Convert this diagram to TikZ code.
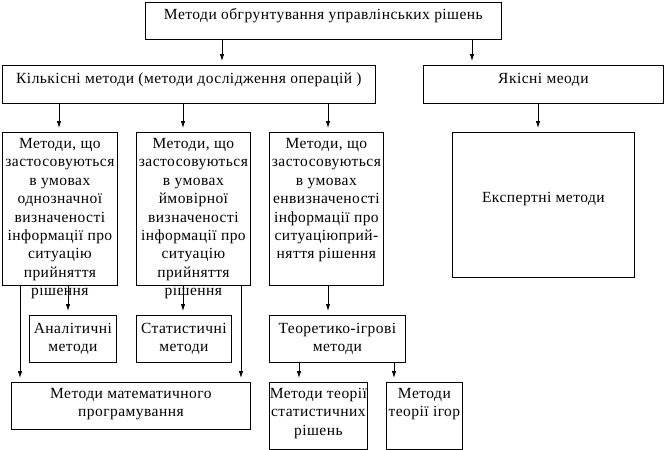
\documentclass[tikz,border=0pt]{standalone}
\usepackage{fontspec}
\setmainfont{Liberation Serif}[LetterSpace=3]
\usetikzlibrary{arrows.meta}
\newcommand{\bxt}[4]{\parbox[c][#2][t]{#1}{\centering\rule{0pt}{#3}#4\par}}
\begin{document}
\begin{tikzpicture}[x=1pt,y=-1pt,
  box/.style={draw, line width=0.8pt, inner sep=0pt, anchor=north west,
    font=\fontsize{15.5pt}{18.4pt}\selectfont},
  arr/.style={draw, line width=0.8pt, -{Latex[length=7pt,width=4.5pt]}, shorten >=4pt}]
\useasboundingbox (0,0) rectangle (665,450);
% level 0
\node[box] (top) at (145,2) {\bxt{356pt}{37pt}{17pt}{Методи обгрунтування управлінських рішень}};
% level 1
\node[box] (kil) at (2,65) {\bxt{373pt}{38pt}{18pt}{Кількісні методи (методи дослідження операцій )}};
\node[box] (yak) at (423,65) {\bxt{240pt}{38pt}{18pt}{Якісні меоди}};
% level 2
\node[box] (b1) at (2,132) {\bxt{115pt}{153pt}{16pt}{Методи, що\\застосовуються\\в умовах\\однозначної\\визначеності\\інформації про\\ситуацію\\прийняття\\рішення}};
\node[box] (b2) at (136,132) {\bxt{114pt}{153pt}{16pt}{Методи, що\\застосовуються\\в умовах\\ймовірної\\визначеності\\інформації про\\ситуацію\\прийняття\\рішення}};
\node[box] (b3) at (269,132) {\bxt{114pt}{153pt}{16pt}{Методи, що\\застосовуються\\в умовах\\енвизначеності\\інформації про\\ситуаціюприй-\\няття рішення}};
\node[box] (exp) at (452,132) {\bxt{182pt}{145pt}{70pt}{Експертні методи}};
% level 3
\node[box] (an) at (29,315) {\bxt{87pt}{47pt}{18pt}{Аналітичні\\методи}};
\node[box] (st) at (136,315) {\bxt{95pt}{47pt}{18pt}{Статистичні\\методи}};
\node[box] (teo) at (269,315) {\bxt{136pt}{47pt}{18pt}{Теоретико-ігрові\\методи}};
% level 4
\node[box] (mp) at (11,382) {\bxt{239pt}{47pt}{16pt}{Методи математичного\\програмування}};
\node[box] (ts) at (269,382) {\bxt{98pt}{67pt}{16pt}{Методи теорії\\статистичних\\рішень}};
\node[box] (ti) at (386,382) {\bxt{76pt}{67pt}{16pt}{Методи\\теорії ігор}};
% x positions of connectors
\coordinate (x222) at (222,0);
\coordinate (x472) at (472,0);
\coordinate (x59) at (59,0);
\coordinate (x183) at (183,0);
\coordinate (x328) at (328,0);
\coordinate (x538) at (538,0);
\coordinate (x68) at (68,0);
\coordinate (x20) at (20,0);
\coordinate (x241) at (241,0);
\coordinate (x299) at (299,0);
\coordinate (x394) at (394,0);
% connectors
\draw[arr] (top.south -| x222) -- (kil.north -| x222);
\draw[arr] (top.south -| x472) -- (yak.north -| x472);
\draw[arr] (kil.south -| x59) -- (b1.north -| x59);
\draw[arr] (kil.south -| x183) -- (b2.north -| x183);
\draw[arr] (kil.south -| x328) -- (b3.north -| x328);
\draw[arr] (yak.south -| x538) -- (exp.north -| x538);
\draw[arr] (b1.south -| x68) -- (an.north -| x68);
\draw[arr] (b1.south -| x20) -- (mp.north -| x20);
\draw[arr] (b2.south -| x183) -- (st.north -| x183);
\draw[arr] (b2.south -| x241) -- (mp.north -| x241);
\draw[arr] (b3.south -| x328) -- (teo.north -| x328);
\draw[arr] (teo.south -| x299) -- (ts.north -| x299);
\draw[arr] (teo.south -| x394) -- (ti.north -| x394);
\end{tikzpicture}
\end{document}
